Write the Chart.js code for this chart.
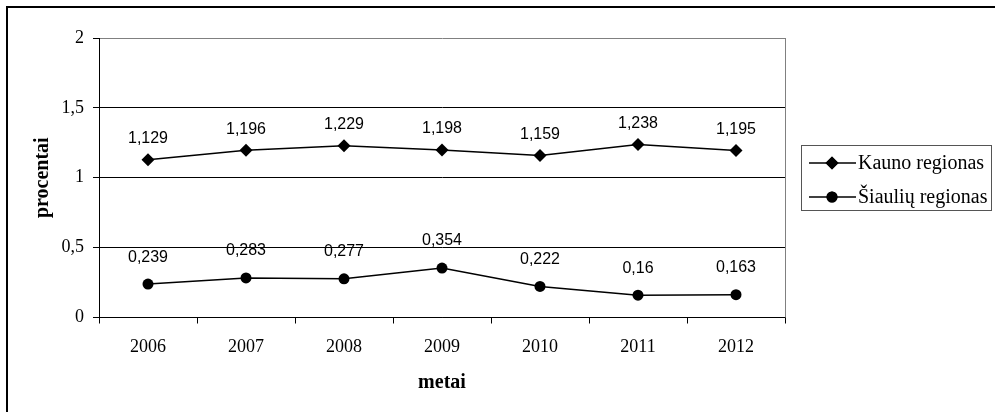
<!DOCTYPE html>
<html>
<head>
<meta charset="utf-8">
<script src="https://cdn.jsdelivr.net/npm/chart.js@4/dist/chart.umd.min.js"></script>
<style>
  html, body { margin: 0; padding: 0; background: #fff; }
  #wrap { width: 995px; height: 412px; position: relative; }
</style>
</head>
<body>
<div id="wrap"><canvas id="c" width="995" height="412"></canvas></div>
<script>
// Metai ir rodikliai (procentai)
const years = ['2006', '2007', '2008', '2009', '2010', '2011', '2012'];
const kaunoValues = [1.129, 1.196, 1.229, 1.198, 1.159, 1.238, 1.195];
const siauliuValues = [0.239, 0.283, 0.277, 0.354, 0.222, 0.16, 0.163];
const seriesNames = ['Kauno regionas', 'Šiaulių regionas'];
const yTicks = [0, 0.5, 1, 1.5, 2];

const SERIF = '"Liberation Serif", "Times New Roman", serif';
const SANS = '"Liberation Sans", Arial, sans-serif';
const fmt = v => String(v).replace('.', ',');

// Value labels above each point
const valueLabels = {
  id: 'valueLabels',
  afterDatasetsDraw(chart) {
    const ctx = chart.ctx;
    ctx.save();
    ctx.font = '16px ' + SANS;
    ctx.fillStyle = '#000';
    ctx.textAlign = 'center';
    ctx.textBaseline = 'middle';
    chart.data.datasets.forEach((ds, i) => {
      const meta = chart.getDatasetMeta(i);
      meta.data.forEach((pt, j) => {
        ctx.fillText(fmt(ds.data[j]), pt.x, pt.y - ds.labelOffset);
      });
    });
    ctx.restore();
  }
};

// Frame, plot edges and boxed legend
const decor = {
  id: 'decor',
  beforeDraw(chart) {
    const ctx = chart.ctx;
    ctx.save();
    ctx.fillStyle = '#fff';
    ctx.fillRect(0, 0, chart.width, chart.height);
    ctx.strokeStyle = '#000';
    ctx.lineWidth = 2;
    ctx.strokeRect(7, 7, chart.width + 50, chart.height + 50);
    ctx.restore();
  },
  afterDraw(chart) {
    const ctx = chart.ctx;
    const a = chart.chartArea;
    ctx.save();
    // right edge of the plot
    ctx.strokeStyle = '#808080';
    ctx.lineWidth = 1;
    ctx.beginPath();
    ctx.moveTo(Math.round(a.right) + 0.5, a.top);
    ctx.lineTo(Math.round(a.right) + 0.5, a.bottom);
    ctx.stroke();

    // legend
    const lx = 801, ly = 145, lw = 190, lh = 65;
    ctx.strokeStyle = '#555';
    ctx.strokeRect(lx + 0.5, ly + 0.5, lw, lh);
    ctx.font = '20px ' + SERIF;
    ctx.textAlign = 'left';
    ctx.textBaseline = 'middle';
    chart.data.datasets.forEach((ds, i) => {
      const y = ly + 18 + i * 34;
      ctx.strokeStyle = '#000';
      ctx.lineWidth = 1.5;
      ctx.beginPath();
      ctx.moveTo(lx + 8, y);
      ctx.lineTo(lx + 55, y);
      ctx.stroke();
      ctx.fillStyle = '#000';
      Chart.helpers.drawPoint(ctx, {
        pointStyle: ds.pointStyle, radius: ds.pointRadius, borderWidth: 0
      }, lx + 31, y);
      ctx.fill();
      ctx.fillText(ds.label, lx + 57, y + 1);
    });
    ctx.restore();
  }
};

new Chart(document.getElementById('c'), {
  type: 'line',
  data: {
    labels: years,
    datasets: [
      {
        label: seriesNames[0],
        data: kaunoValues,
        borderColor: '#000',
        backgroundColor: '#000',
        borderWidth: 1.5,
        pointStyle: 'rectRot',
        pointRadius: 6.5,
        pointHoverRadius: 6.5,
        pointBorderWidth: 0,
        tension: 0,
        labelOffset: 21
      },
      {
        label: seriesNames[1],
        data: siauliuValues,
        borderColor: '#000',
        backgroundColor: '#000',
        borderWidth: 1.5,
        pointStyle: 'circle',
        pointRadius: 5.5,
        pointHoverRadius: 5.5,
        pointBorderWidth: 0,
        tension: 0,
        labelOffset: 27
      }
    ]
  },
  options: {
    responsive: false,
    animation: false,
    devicePixelRatio: 1,
    layout: { padding: { left: 0, top: 38, right: 210, bottom: 0 } },
    plugins: {
      legend: { display: false },
      tooltip: { enabled: false },
      title: { display: false }
    },
    scales: {
      x: {
        type: 'category',
        offset: true,
        grid: {
          offset: true,
          drawOnChartArea: false,
          drawTicks: true,
          tickLength: 6,
          color: '#000',
          tickColor: '#000'
        },
        border: { display: true, color: '#000', width: 1 },
        ticks: {
          color: '#000',
          font: { family: SERIF, size: 18 },
          padding: 13,
          maxRotation: 0
        },
        title: {
          display: true,
          text: 'metai',
          color: '#000',
          font: { family: SERIF, size: 20, weight: 'bold' },
          padding: { top: 0, bottom: 17 }
        },
        afterFit(scale) { scale.height = 94.5; }
      },
      y: {
        min: 0,
        max: 2,
        afterBuildTicks(scale) { scale.ticks = yTicks.map(v => ({ value: v })); },
        grid: {
          color: ctx => (ctx.tick && ctx.tick.value === 2) ? '#808080' : '#000',
          tickColor: '#000',
          tickLength: 6,
          lineWidth: 1
        },
        border: { display: true, color: '#000', width: 1 },
        ticks: {
          color: '#000',
          font: { family: SERIF, size: 18 },
          padding: 9,
          callback: v => fmt(v)
        },
        title: {
          display: true,
          text: 'procentai',
          color: '#000',
          font: { family: SERIF, size: 20, weight: 'bold' },
          padding: { top: 31, bottom: 0 }
        },
        afterFit(scale) { scale.width = 99; }
      }
    }
  },
  plugins: [decor, valueLabels]
});
</script>
</body>
</html>
